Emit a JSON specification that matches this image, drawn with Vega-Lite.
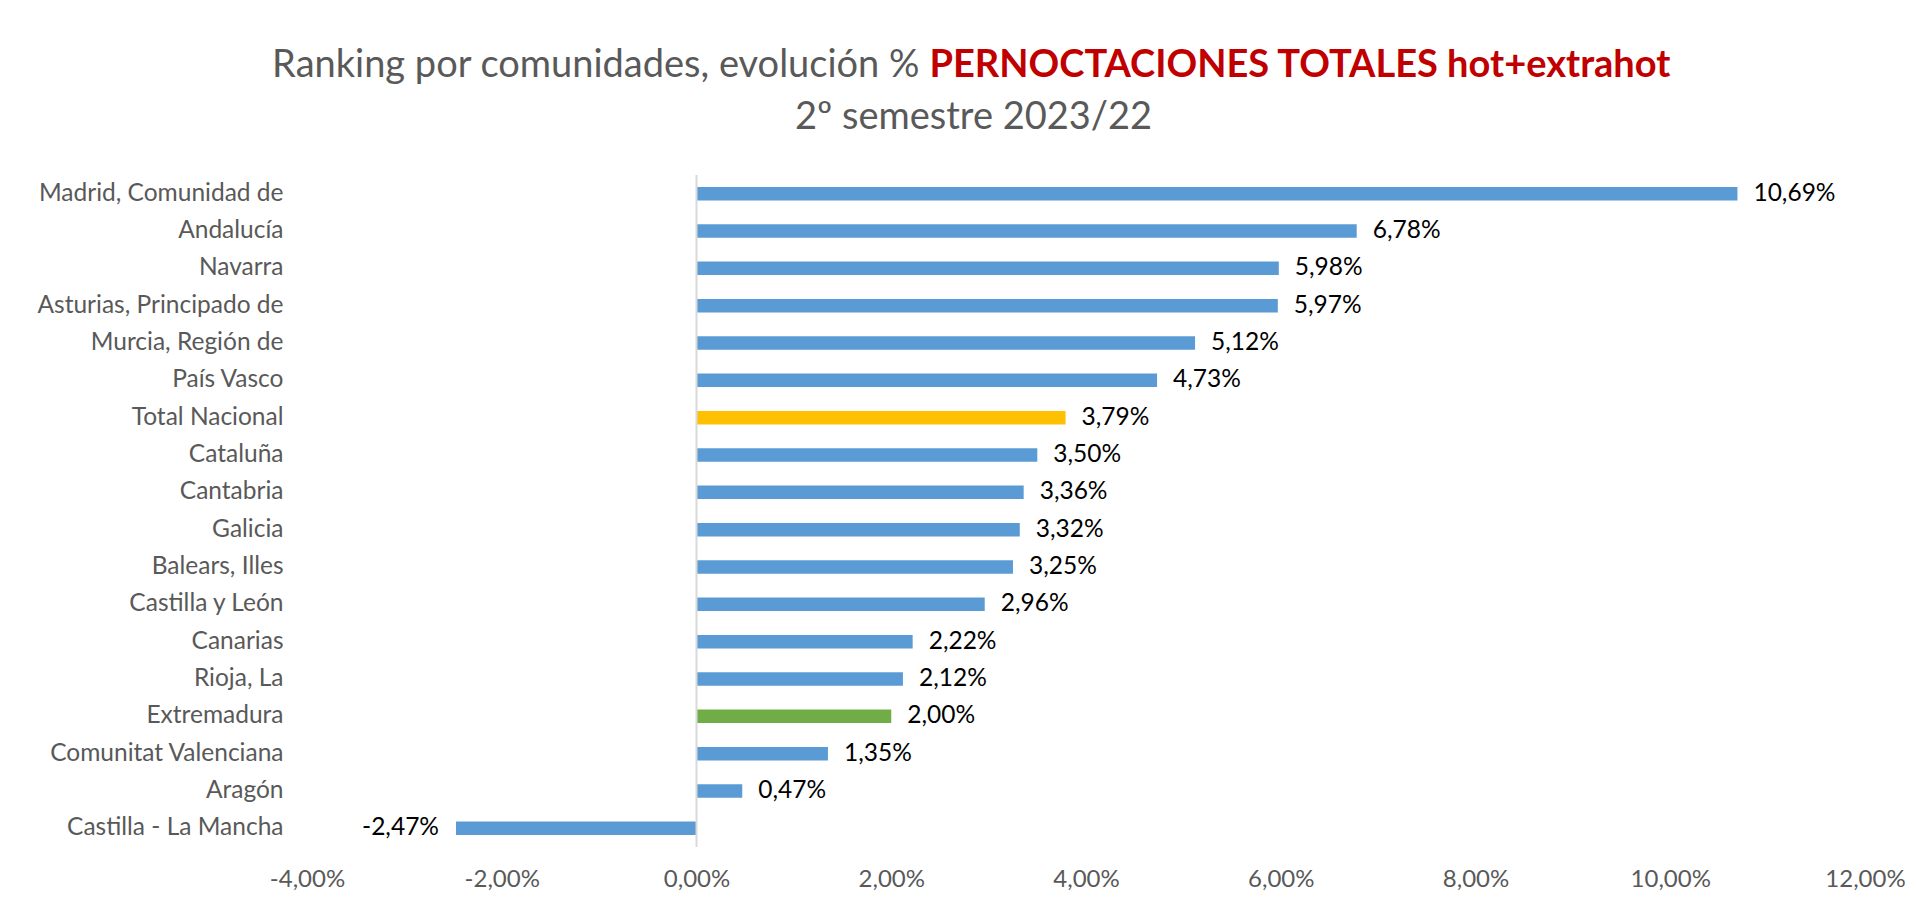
{
  "$schema": "https://vega.github.io/schema/vega-lite/v6.json",
  "autosize": "none",
  "width": 1558,
  "height": 672,
  "padding": {"left": 307, "top": 175, "right": 52, "bottom": 63},
  "background": "white",
  "data": {
    "values": [
      {"c": "Madrid, Comunidad de", "v": 0.1069},
      {"c": "Andalucía", "v": 0.0678},
      {"c": "Navarra", "v": 0.0598},
      {"c": "Asturias, Principado de", "v": 0.0597},
      {"c": "Murcia, Región de", "v": 0.0512},
      {"c": "País Vasco", "v": 0.0473},
      {"c": "Total Nacional", "v": 0.0379},
      {"c": "Cataluña", "v": 0.0350},
      {"c": "Cantabria", "v": 0.0336},
      {"c": "Galicia", "v": 0.0332},
      {"c": "Balears, Illes", "v": 0.0325},
      {"c": "Castilla y León", "v": 0.0296},
      {"c": "Canarias", "v": 0.0222},
      {"c": "Rioja, La", "v": 0.0212},
      {"c": "Extremadura", "v": 0.0200},
      {"c": "Comunitat Valenciana", "v": 0.0135},
      {"c": "Aragón", "v": 0.0047},
      {"c": "Castilla - La Mancha", "v": -0.0247}
    ]
  },
  "resolve": {"axis": {"x": "independent", "y": "independent"}},
  "layer": [
    {
      "mark": {"type": "bar", "orient": "horizontal"},
      "encoding": {
        "y": {
          "field": "c", "type": "nominal", "sort": null,
          "scale": {"paddingInner": 0.64, "paddingOuter": 0.32},
          "axis": {
            "title": "Ranking por comunidades, evolución %",
            "titleAngle": 0, "titleAlign": "right", "titleBaseline": "alphabetic",
            "titleX": 612, "titleY": -99,
            "titleFont": "Lato", "titleFontSize": 38, "titleFontWeight": "normal", "titleColor": "#595959",
            "labelFont": "Lato", "labelFontSize": 24.5, "labelColor": "#595959", "labelPadding": 24, "labelLimit": 0,
            "ticks": false, "domain": false, "grid": false
          }
        },
        "x": {
          "field": "v", "type": "quantitative",
          "scale": {"domain": [-0.04, 0.12], "nice": false, "zero": false},
          "axis": {
            "values": [-0.04, -0.02, 0, 0.02, 0.04, 0.06, 0.08, 0.1, 0.12],
            "format": ".2%",
            "labelFlush": false,
            "title": "2º semestre 2023/22",
            "titleAlign": "center", "titleBaseline": "alphabetic",
            "titleX": 666, "titleY": -719,
            "titleFont": "Lato", "titleFontSize": 38, "titleFontWeight": "normal", "titleColor": "#595959",
            "labelFont": "Lato", "labelFontSize": 24, "labelColor": "#595959", "labelPadding": 20,
            "ticks": false, "domain": false, "grid": false
          }
        },
        "color": {
          "condition": [
            {"test": "datum.c === 'Total Nacional'", "value": "#FFC000"},
            {"test": "datum.c === 'Extremadura'", "value": "#70AD47"}
          ],
          "value": "#5B9BD5"
        }
      }
    },
    {
      "data": {"values": [{"z": 0}]},
      "mark": {"type": "rule", "color": "#D9D9D9", "strokeWidth": 2},
      "encoding": {
        "x": {"field": "z", "type": "quantitative", "axis": null}
      }
    },
    {
      "transform": [{"filter": "datum.v >= 0"}],
      "mark": {"type": "text", "align": "left", "baseline": "middle", "dx": 16, "font": "Lato", "fontSize": 24.5, "color": "#000000"},
      "encoding": {
        "y": {"field": "c", "type": "nominal", "sort": null, "axis": null},
        "x": {
          "field": "v", "type": "quantitative",
          "axis": {
            "orient": "top",
            "title": "PERNOCTACIONES TOTALES hot+extrahot",
            "titleAlign": "left", "titleBaseline": "alphabetic",
            "titleX": 622, "titleY": -99,
            "titleFont": "Lato", "titleFontSize": 38, "titleFontWeight": "bold", "titleColor": "#C00000",
            "labels": false, "ticks": false, "domain": false, "grid": false
          }
        },
        "text": {"field": "v", "type": "quantitative", "format": ".2%"}
      }
    },
    {
      "transform": [{"filter": "datum.v < 0"}],
      "mark": {"type": "text", "align": "right", "baseline": "middle", "dx": -17, "font": "Lato", "fontSize": 24.5, "color": "#000000"},
      "encoding": {
        "y": {"field": "c", "type": "nominal", "sort": null, "axis": null},
        "x": {"field": "v", "type": "quantitative", "axis": null},
        "text": {"field": "v", "type": "quantitative", "format": ".2%"}
      }
    }
  ],
  "config": {
    "view": {"stroke": null},
    "locale": {
      "number": {"decimal": ",", "thousands": ".", "grouping": [3], "currency": ["", " €"], "minus": "-"}
    }
  }
}
